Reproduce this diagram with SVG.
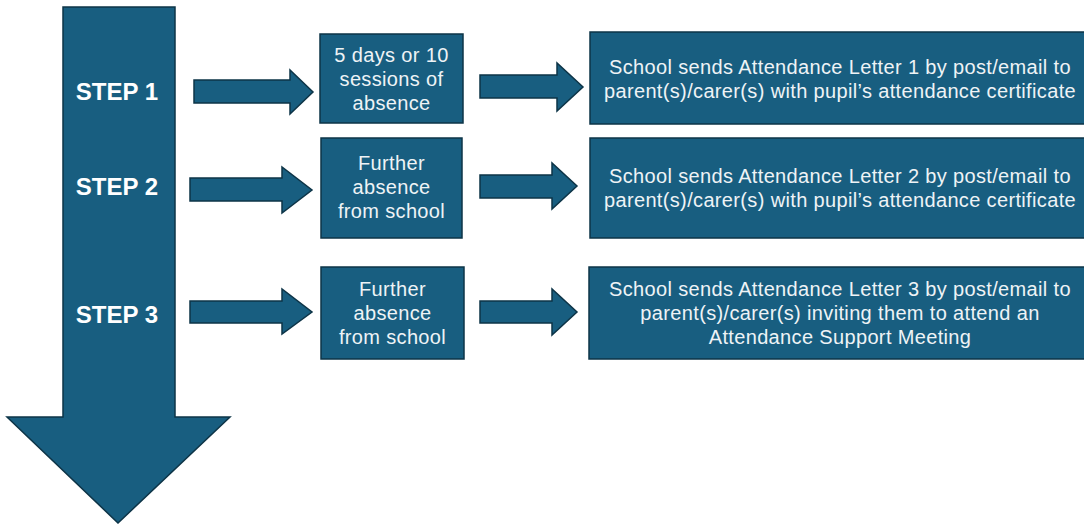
<svg xmlns="http://www.w3.org/2000/svg" width="1084" height="524" viewBox="0 0 1084 524">
<style>
.s{fill:#185e80;stroke:#0d3447;stroke-width:1.5}
.t{fill:#eef3f6;font-family:"Liberation Sans",Arial,sans-serif;font-size:20px;letter-spacing:0.35px;text-anchor:middle}
.st{fill:#ffffff;font-family:"Liberation Sans",Arial,sans-serif;font-size:24px;font-weight:bold;text-anchor:middle}
</style>
<rect width="1084" height="524" fill="#ffffff"/>
<g id="timeline">
<polygon class="s" points="63,7 175,7 175,417 230,417 118,523 7,417 63,417"/>
<text class="st" x="117" y="100">STEP 1</text>
<text class="st" x="117" y="195">STEP 2</text>
<text class="st" x="117" y="323">STEP 3</text>
</g>
<g id="connectors">
<polygon class="s" points="194,80 290,80 290,70 313,92 290,114 290,103 194,103"/>
<polygon class="s" points="480,75 557,75 557,63 583,87 557,111 557,98 480,98"/>
<polygon class="s" points="190,178 282,178 282,167 312,190 282,213 282,201 190,201"/>
<polygon class="s" points="480,175 552,175 552,163 577,186 552,209 552,198 480,198"/>
<polygon class="s" points="190,301 282,301 282,289 312,312 282,334 282,323 190,323"/>
<polygon class="s" points="480,301 552,301 552,289 577,312 552,335 552,323 480,323"/>
</g>
<g id="cond1">
<rect class="s" x="320" y="34" width="143" height="89"/>
<text class="t" x="391.5" y="62">5 days or 10</text>
<text class="t" x="391.5" y="86">sessions of</text>
<text class="t" x="391.5" y="110">absence</text>
</g>
<g id="cond2">
<rect class="s" x="321" y="138" width="141" height="100"/>
<text class="t" x="391.5" y="170">Further</text>
<text class="t" x="391.5" y="194">absence</text>
<text class="t" x="391.5" y="218">from school</text>
</g>
<g id="cond3">
<rect class="s" x="321" y="267" width="143" height="92"/>
<text class="t" x="392.5" y="296">Further</text>
<text class="t" x="392.5" y="320">absence</text>
<text class="t" x="392.5" y="344">from school</text>
</g>
<g id="letter1">
<rect class="s" x="590" y="32" width="500" height="92"/>
<text class="t" x="840" y="74">School sends Attendance Letter 1 by post/email to</text>
<text class="t" x="840" y="98">parent(s)/carer(s) with pupil’s attendance certificate</text>
</g>
<g id="letter2">
<rect class="s" x="590" y="138" width="500" height="100"/>
<text class="t" x="840" y="183">School sends Attendance Letter 2 by post/email to</text>
<text class="t" x="840" y="207">parent(s)/carer(s) with pupil’s attendance certificate</text>
</g>
<g id="letter3">
<rect class="s" x="589" y="267" width="500" height="92"/>
<text class="t" x="840" y="296">School sends Attendance Letter 3 by post/email to</text>
<text class="t" x="840" y="320">parent(s)/carer(s) inviting them to attend an</text>
<text class="t" x="840" y="344">Attendance Support Meeting</text>
</g>
</svg>
